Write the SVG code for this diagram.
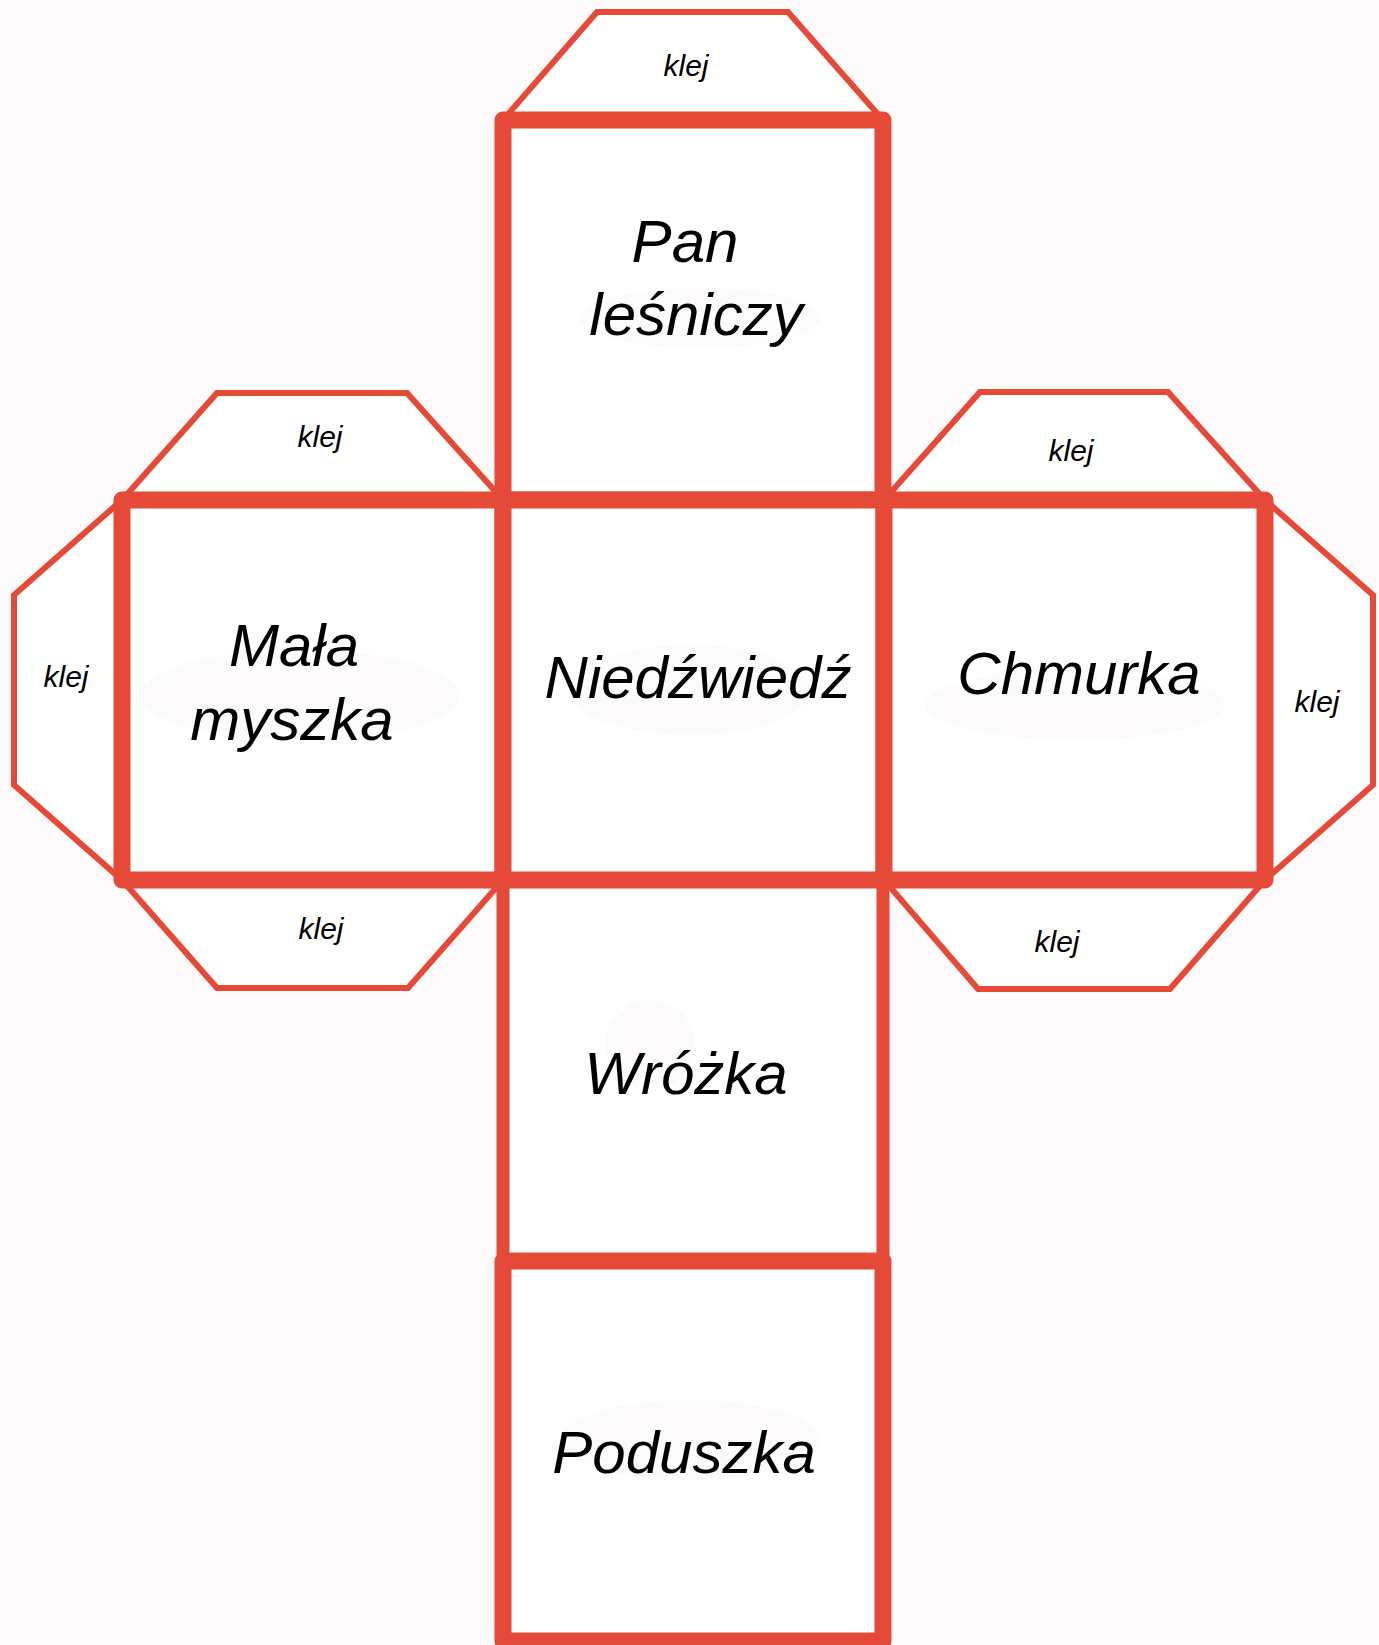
<svg xmlns="http://www.w3.org/2000/svg" width="1379" height="1645" viewBox="0 0 1379 1645">
<style>
.tab{fill:#ffffff;stroke:#e44a37;stroke-width:6;stroke-linejoin:miter}
.face{fill:#ffffff;stroke:#e44a37;stroke-width:17;stroke-linejoin:round}
.thin{stroke-width:13}
.blob{fill:#fdfafb}
.klej{font-family:"Liberation Sans",Arial,sans-serif;font-style:italic;font-size:30px;fill:#000;text-anchor:middle}
.lbl{font-family:"Liberation Sans",Arial,sans-serif;font-style:italic;font-size:60px;fill:#000;text-anchor:middle}
</style>
<rect x="0" y="0" width="1379" height="1645" fill="#fdfafb"/>
<g id="tab-top"><polygon class="tab" points="503,120 597,12 788,12 883,120"/><text class="klej" x="686" y="76">klej</text></g>
<g id="tab-left-top"><polygon class="tab" points="122,500 217,393 407,393 503,500"/><text class="klej" x="320" y="447">klej</text></g>
<g id="tab-left"><polygon class="tab" points="122,500 14,595 14,785 122,880"/><text class="klej" x="66" y="687">klej</text></g>
<g id="tab-left-bottom"><polygon class="tab" points="122,880 217,988 408,988 503,880"/><text class="klej" x="321" y="939">klej</text></g>
<g id="tab-right-top"><polygon class="tab" points="884,500 980,392 1168,392 1265,500"/><text class="klej" x="1071" y="461">klej</text></g>
<g id="tab-right"><polygon class="tab" points="1265,500 1373,595 1373,785 1265,880"/><text class="klej" x="1317" y="712">klej</text></g>
<g id="tab-right-bottom"><polygon class="tab" points="884,880 978,989 1170,989 1265,880"/><text class="klej" x="1057" y="952">klej</text></g>
<g id="face-wrozka"><rect class="face thin" x="503" y="880" width="380" height="381"/><ellipse class="blob" cx="650" cy="1045" rx="45" ry="45"/><text class="lbl" x="686" y="1094">Wróżka</text></g>
<g id="face-pan"><rect class="face" x="503" y="120" width="380" height="380"/><ellipse class="blob" cx="700" cy="318" rx="120" ry="30"/><text class="lbl" x="685" y="262">Pan</text><text class="lbl" x="696" y="335">leśniczy</text></g>
<g id="face-mala"><rect class="face" x="122" y="500" width="381" height="380"/><ellipse class="blob" cx="300" cy="695" rx="160" ry="45"/><text class="lbl" x="294" y="666">Mała</text><text class="lbl" x="292" y="740">myszka</text></g>
<g id="face-niedzwiedz"><rect class="face" x="503" y="500" width="381" height="380"/><ellipse class="blob" cx="690" cy="690" rx="120" ry="45"/><text class="lbl" x="698" y="698">Niedźwiedź</text></g>
<g id="face-chmurka"><rect class="face" x="884" y="500" width="381" height="380"/><ellipse class="blob" cx="1075" cy="705" rx="150" ry="35"/><text class="lbl" x="1079" y="694">Chmurka</text></g>
<g id="face-poduszka"><rect class="face" x="503" y="1261" width="380" height="380"/><ellipse class="blob" cx="690" cy="1440" rx="130" ry="40"/><text class="lbl" x="684" y="1473">Poduszka</text></g>
</svg>
